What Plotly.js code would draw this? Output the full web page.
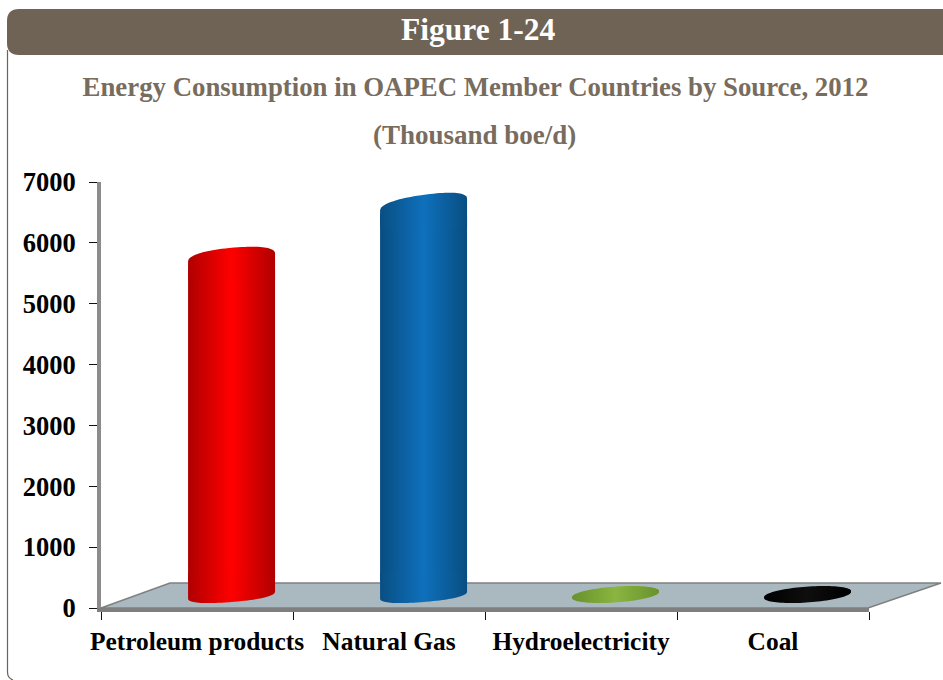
<!DOCTYPE html>
<html>
<head>
<meta charset="utf-8">
<script src="https://cdn.plot.ly/plotly-3.0.1.min.js"></script>
<style>html,body{margin:0;padding:0;background:#fff;overflow:hidden}#chart{width:943px;height:680px}</style>
</head>
<body>
<div id="chart"></div>
<script>
// ---- data ----
const categories = ['Petroleum products', 'Natural Gas', 'Hydroelectricity', 'Coal'];
const consumption = [5458, 6328, 15, 15];
const floorLift = [296, 296, 214, 214];
const yTicks = [0, 1000, 2000, 3000, 4000, 5000, 6000, 7000];

// ---- style ----
const SERIF = '"Liberation Serif", "Times New Roman", serif';
const BROWN = '#6f6355';
const TITLE = '#786c5e';
const L = 101, R = 869, T = 182, B = 608;
const edgeColors = [[176, 0, 0], [9, 78, 130], [104, 146, 44], [0, 0, 0]];
const coreColors = [[255, 0, 0], [15, 112, 188], [138, 181, 64], [14, 14, 14]];
const barWidth = 0.453, barShift = 0.18, layers = 30;
const bodyScale = [1, 1, 0.7, 0.7];
const capFloor = 214;
const unitsPerPx = 7000 / (B - T);
const capB = [10, 10, 7.5, 7.5], capTilt = [4, 6, 3, 3], capSide = [22, 22, 0, 0], capPow = [0.85, 0.85, 1, 1];
const footB = 7, footTilt = 3.5;
const px = x => (x - L) / (R - L), py = y => (B - y) / (B - T);
const path = pts => pts.map((p, i) => (i ? 'L' : 'M') + px(p[0]) + ',' + py(p[1])).join(' ') + ' Z';
const rgb = (i, t) => 'rgb(' + edgeColors[i].map((e, c) => Math.round(e + (coreColors[i][c] - e) * t)).join(',') + ')';

// ---- nested bars give the cylinder body its shading ----
const traces = [];
for (let k = 0; k < layers; k++) {
  const w = bodyScale.map(s => s * barWidth * (1 - k / layers));
  const t = k / (layers - 1);
  traces.push({
    type: 'bar', x: categories, y: consumption, base: floorLift,
    width: w, offset: w.map(v => barShift - v / 2),
    marker: { color: categories.map((c, i) => rgb(i, t)), line: { width: 0 }, cornerradius: 12 },
    showlegend: false, hoverinfo: 'x+y'
  });
}

// ---- rounded ends of each cylinder, placed from the same values ----
// dir = +1 for the top end (arc up, sides running down), -1 for the bottom end
function cap(i, level, dir) {
  const xs = [], ys = [], a = barWidth / 2;
  const sgn = v => (v < 0 ? -1 : 1);
  const sweep = capSide[i] ? 180 : 360;
  const foot = dir < 0;
  const hb = foot ? footB : capB[i], ht = foot ? footTilt : capTilt[i];
  for (let d = 0; d <= sweep; d += 4) {
    const r = d * Math.PI / 180, c = Math.cos(r), s = Math.sin(r);
    const cx = sgn(c) * Math.pow(Math.abs(c), capPow[i]);
    const sy = sgn(s) * Math.pow(Math.abs(s), capPow[i]);
    xs.push(i + barShift + a * cx);
    ys.push(level + (dir * hb * sy + ht * cx) * unitsPerPx);
  }
  if (capSide[i]) {
    xs.push(i + barShift - a, i + barShift + a);
    ys.push(level - dir * capSide[i] * unitsPerPx, level - dir * capSide[i] * unitsPerPx);
  }
  return {
    type: 'scatter', xaxis: 'x2', yaxis: 'y', x: xs, y: ys, mode: 'none', fill: 'toself',
    fillgradient: { type: 'horizontal', colorscale: [[0, rgb(i, 0)], [0.5, rgb(i, 1)], [1, rgb(i, 0)]] },
    showlegend: false, hoverinfo: 'skip', cliponaxis: false
  };
}
categories.forEach((c, i) => {
  traces.push(cap(i, capFloor, capSide[i] ? -1 : 1));
  traces.push(cap(i, floorLift[i] + consumption[i], 1));
});

const layout = {
  width: 943, height: 680, autosize: false,
  margin: { l: L, r: 943 - R, t: T, b: 680 - B },
  paper_bgcolor: '#ffffff', plot_bgcolor: 'rgba(0,0,0,0)',
  showlegend: false, barmode: 'overlay',
  title: {
    text: 'Energy Consumption in OAPEC Member Countries by Source, 2012',
    font: { family: SERIF, size: 26.8, color: TITLE, weight: 'bold' },
    x: px(475.5), xref: 'paper', xanchor: 'center', y: 1 - 87 / 680, yanchor: 'middle'
  },
  xaxis: {
    type: 'category', range: [-0.5, 3.5], tickson: 'boundaries', categoryorder: 'array', categoryarray: categories,
    showgrid: false, zeroline: false, showline: true, linecolor: '#7f7f7f', linewidth: 4, tickangle: 0,
    ticks: 'outside', ticklen: 8, tickwidth: 1, tickcolor: '#111',
    tickfont: { family: SERIF, size: 25.4, color: '#000', weight: 'bold' }, ticklabelstandoff: 8
  },
  xaxis2: { overlaying: 'x', range: [-0.5, 3.5], visible: false, fixedrange: true },
  yaxis: {
    range: [0, 7000], tickmode: 'array', tickvals: yTicks, showgrid: false, zeroline: false,
    showline: true, linecolor: '#8c8c8c', linewidth: 4,
    ticks: 'outside', ticklen: 8, tickwidth: 1, tickcolor: '#111',
    tickfont: { family: SERIF, size: 26.5, color: '#000', weight: 'bold' }, ticklabelstandoff: 8
  },
  shapes: [
    { type: 'path', xref: 'paper', yref: 'paper', layer: 'below', fillcolor: '#aab9bf',
      line: { color: '#808080', width: 1.5 },
      path: path([[101, 608], [170, 583], [941, 583], [868, 608]]) },
    { type: 'path', xref: 'paper', yref: 'paper', layer: 'below', fillcolor: 'rgba(0,0,0,0)',
      line: { color: BROWN, width: 1.2 },
      path: 'M' + px(7.5) + ',' + py(50) + ' L' + px(7.5) + ',' + py(672) + ' Q' + px(7.5) + ',' + py(678) + ' ' + px(13) + ',' + py(680) },
    { type: 'path', xref: 'paper', yref: 'paper', layer: 'below', fillcolor: BROWN, line: { width: 0 },
      path: 'M' + px(7) + ',' + py(21) + ' Q' + px(7) + ',' + py(9) + ' ' + px(19) + ',' + py(9) +
            ' L' + px(943) + ',' + py(9) + ' L' + px(943) + ',' + py(55) + ' L' + px(19) + ',' + py(55) +
            ' Q' + px(7) + ',' + py(55) + ' ' + px(7) + ',' + py(43) + ' Z' }
  ],
  annotations: [
    { text: 'Figure 1-24', xref: 'paper', yref: 'paper', x: px(478.5), y: py(30), showarrow: false,
      xanchor: 'center', yanchor: 'middle', font: { family: SERIF, size: 31.5, color: '#ffffff', weight: 'bold' } },
    { text: '(Thousand boe/d)', xref: 'paper', yref: 'paper', x: px(474.5), y: py(135), showarrow: false,
      xanchor: 'center', yanchor: 'middle', font: { family: SERIF, size: 27, color: TITLE, weight: 'bold' } }
  ]
};

Plotly.newPlot('chart', traces, layout, { displayModeBar: false, staticPlot: true });
</script>
</body>
</html>
